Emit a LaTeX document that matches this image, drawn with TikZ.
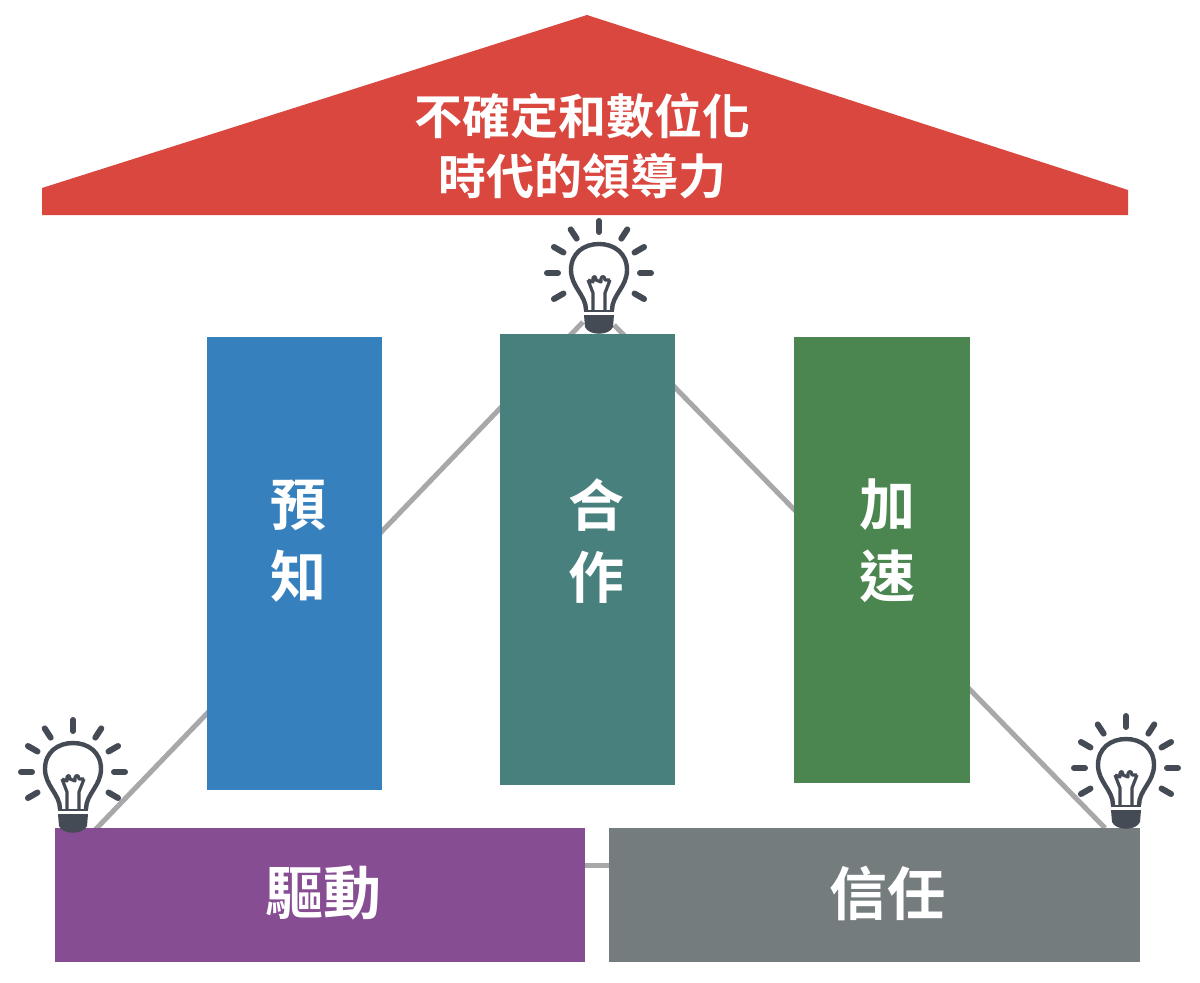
\documentclass[tikz,border=0pt]{standalone}
\usepackage{fontspec}
\setmainfont{Noto Sans CJK TC}[BoldFont={Noto Sans CJK TC Bold}]
\definecolor{roofred}{HTML}{D9473F}
\definecolor{pillarblue}{HTML}{3580BD}
\definecolor{pillarteal}{HTML}{47807C}
\definecolor{pillargreen}{HTML}{4B854F}
\definecolor{basepurple}{HTML}{874D93}
\definecolor{basegray}{HTML}{757C7E}
\definecolor{linkgray}{HTML}{A8A8AA}
\definecolor{bulbdark}{HTML}{454B54}
\tikzset{
  label/.style={text=white,font=\bfseries\fontsize{56}{72}\selectfont,inner sep=0pt,align=center},
  baselabel/.style={text=white,font=\bfseries\fontsize{58}{72}\selectfont,inner sep=0pt,align=center},
  rooflabel/.style={text=white,font=\bfseries\fontsize{48}{60}\selectfont,inner sep=0pt,align=center},
  link/.style={draw=linkgray,line width=5pt},
  pics/lightbulb/.style={code={
    \foreach \a in {0,-30,-57,-90,-123,-150,180,150,30}
      \draw[bulbdark,line width=6pt,line cap=round] (\a:41) -- (\a:52);
    \draw[bulbdark,line width=4.4pt,line join=round]
      (-13,37) .. controls (-13,22) and (-28,14) .. (-28,-3)
      .. controls (-28,-20) and (-15,-29) .. (0,-29)
      .. controls (15,-29) and (28,-20) .. (28,-3)
      .. controls (28,14) and (13,22) .. (13,37);
    \draw[bulbdark,line width=3.2pt,line join=round]
      (-6,37) -- (-6,20) -- (-11,7) (6,37) -- (6,20) -- (11,7)
      (-11,7) -- (-6,9) .. controls (-7,2) and (-3,2) .. (-3,7) -- (2,9)
      .. controls (1,2) and (6,2) .. (6,7) -- (11,7);
    \draw[bulbdark,line width=2.6pt] (-15,38) -- (15,38);
    \fill[bulbdark] (-15,42) -- (15,42) -- (14,54) .. controls (10,63) and (-10,63) .. (-14,54) -- cycle;
  }}
}
\begin{document}
\begin{tikzpicture}[x=1pt,y=-1pt]
\useasboundingbox (0,0) rectangle (1200,983);
\coordinate (bulbL) at (95,830);
\coordinate (apexL) at (583,322);
\coordinate (apexR) at (614,325);
\coordinate (bulbR) at (1105,828);
\coordinate (gapL) at (585,865);
\coordinate (gapR) at (609,865);
\draw[link] (bulbL) -- (apexL);
\draw[link] (apexR) -- (bulbR);
\draw[link] (gapL) -- (gapR);

\fill[roofred] (42,188) -- (587,15) -- (1128,190) -- (1128,215) -- (42,215) -- cycle;
\node[rooflabel] (roof) at (582,146) {不確定和數位化\\[0pt]時代的領導力};

\node[fill=pillarblue,minimum width=175pt,minimum height=453pt,inner sep=0pt] (predict) at (294.5,563.5) {};
\node[fill=pillarteal,minimum width=175pt,minimum height=451pt,inner sep=0pt] (collab) at (587.5,559.5) {};
\node[fill=pillargreen,minimum width=176pt,minimum height=446pt,inner sep=0pt] (accel) at (882,560) {};
\node[fill=basepurple,minimum width=530pt,minimum height=134pt,inner sep=0pt] (drive) at (320,895) {};
\node[fill=basegray,minimum width=531pt,minimum height=134pt,inner sep=0pt] (trust) at (874.5,895) {};

\node[label] (t1) at (298,541) {預\\知};
\node[label] (t2) at (596,541) {合\\作};
\node[label] (t3) at (887,541) {加\\速};
\node[baselabel] (t4) at (323,893) {驅動};
\node[baselabel] (t5) at (887,893) {信任};

\pic at (599,273) {lightbulb};
\pic at (73,772) {lightbulb};
\pic at (1126,768) {lightbulb};
\end{tikzpicture}
\end{document}
